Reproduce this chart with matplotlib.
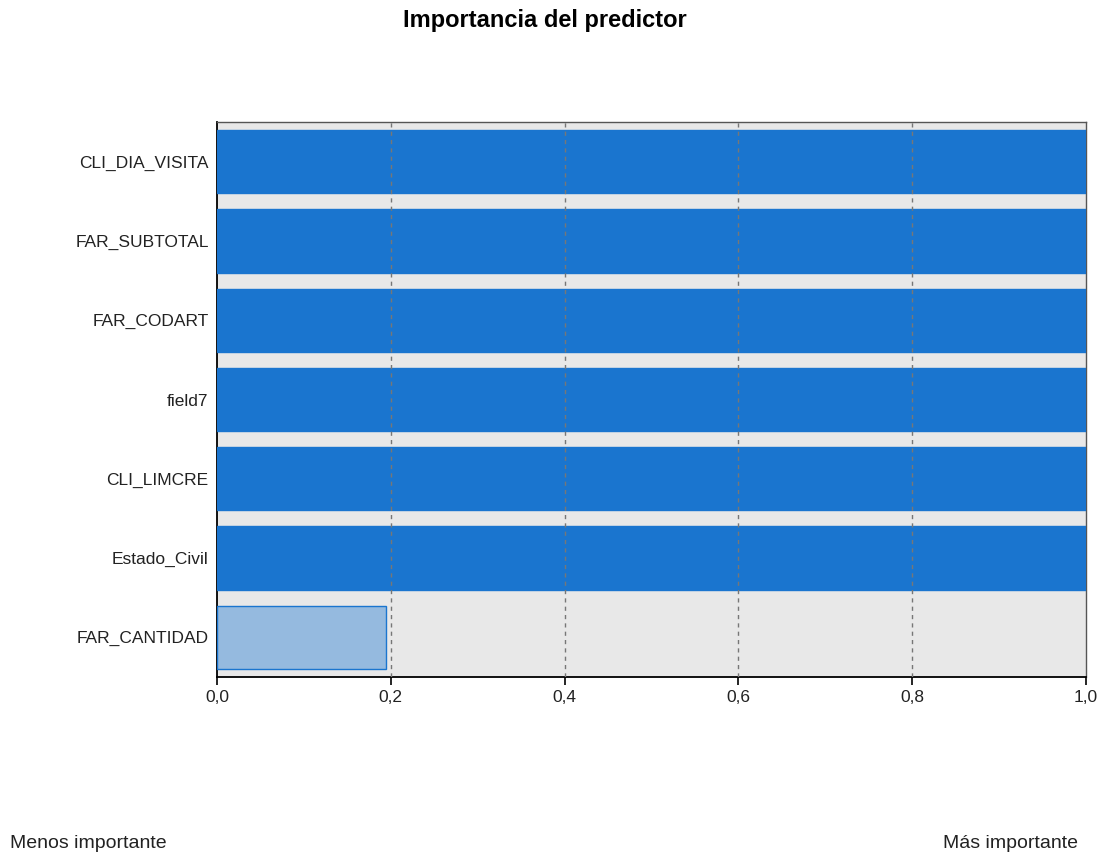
import matplotlib
matplotlib.use("Agg")
import matplotlib.pyplot as plt
import numpy as np

plt.rcParams['font.family'] = ['Liberation Sans', 'DejaVu Sans']

# data (top to bottom)
predictores = ["CLI_DIA_VISITA", "FAR_SUBTOTAL", "FAR_CODART", "field7",
               "CLI_LIMCRE", "Estado_Civil", "FAR_CANTIDAD"]
importancia = [1.0, 1.0, 1.0, 1.0, 1.0, 1.0, 0.195]
destacado = [True, True, True, True, True, True, False]
xticks = [0.0, 0.2, 0.4, 0.6, 0.8, 1.0]
xtick_labels = ["0,0", "0,2", "0,4", "0,6", "0,8", "1,0"]

fig = plt.figure(figsize=(11.11, 8.55), dpi=100)
ax = fig.add_axes([217 / 1111, 1 - 677 / 855, (1086 - 217) / 1111, (677 - 122) / 855])
ax.set_facecolor('#e8e8e8')

y = np.arange(len(predictores))
colores = ['#1a75cf' if d else '#95badf' for d in destacado]
ax.barh(y, importancia, height=0.8, color=colores, edgecolor='#1a75cf',
        linewidth=1.0, zorder=3)

ax.set_ylim(len(predictores) - 0.5, -0.5)
ax.set_xlim(0, 1.0)
ax.set_yticks(y)
ax.set_yticklabels(predictores, fontsize=12.5, color='#222222')
ax.tick_params(axis='y', length=0, pad=6)
ax.set_xticks(xticks)
ax.set_xticklabels(xtick_labels, fontsize=12.5, color='#222222')
ax.tick_params(axis='x', length=6, width=1.2, direction='out', pad=3)

for xv in xticks[1:-1]:
    ax.axvline(xv, color='#777777', linestyle=(0, (3, 3)), linewidth=1.0, zorder=4)

for s in ['left', 'bottom']:
    ax.spines[s].set_color('black')
    ax.spines[s].set_linewidth(1.3)
for s in ['top', 'right']:
    ax.spines[s].set_color('#555555')
    ax.spines[s].set_linewidth(1.0)

fig.text(0.49, 1 - 21 / 855, "Importancia del predictor", ha='center', va='center',
         fontsize=17, fontweight='bold')
fig.text(10 / 1111, 1 - 843 / 855, "Menos importante", ha='left', va='center',
         fontsize=14, color='#222222')
fig.text(1078 / 1111, 1 - 843 / 855, "Más importante", ha='right', va='center',
         fontsize=14, color='#222222')

fig.savefig("out.png", dpi=100)
